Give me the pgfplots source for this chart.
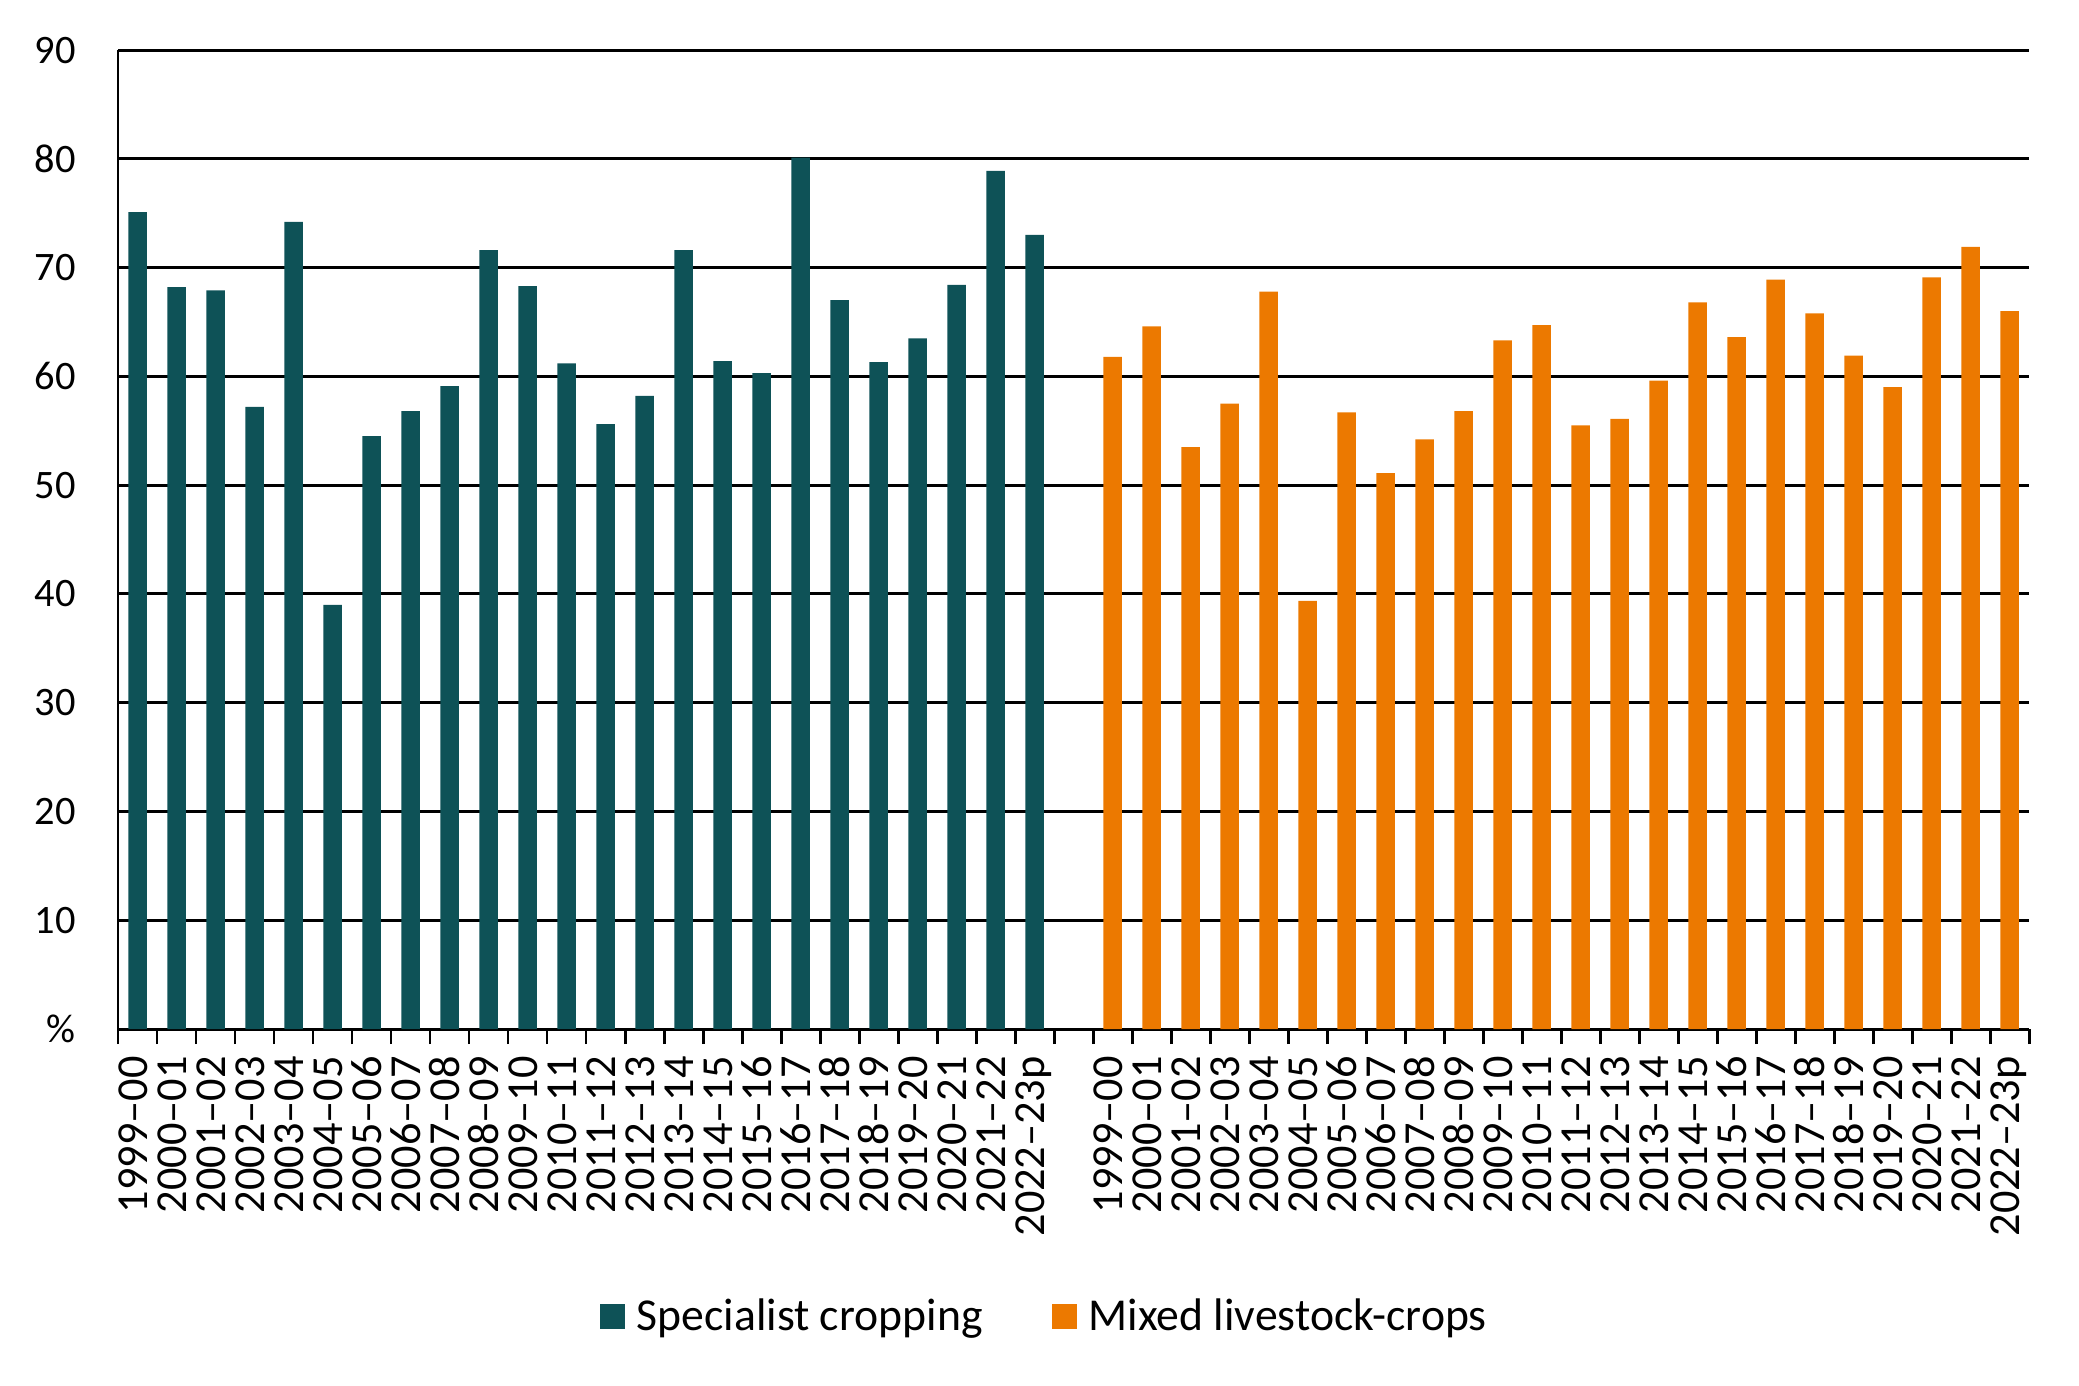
\documentclass[border=0pt]{standalone}
\usepackage{fontspec}
\setmainfont{Carlito}
\usepackage{pgfplots}
\pgfplotsset{compat=1.18}
\definecolor{tealc}{RGB}{14,82,87}
\definecolor{orngc}{RGB}{236,121,0}
\begin{document}
\begin{tikzpicture}
\path[use as bounding box] (-1.18cm,-3.56cm) rectangle (19.61cm,10.29cm);
\begin{axis}[
  at={(0,0)}, anchor=south west,
  scale only axis, width=19.11cm, height=9.79cm,
  xmin=-0.5, xmax=48.5, ymin=0, ymax=90,
  axis x line*=bottom, axis y line*=left,
  axis line style={line width=0.85pt, -, black},
  ytick={0,10,...,90},
  yticklabels={\%,10,20,30,40,50,60,70,80,90},
  ytick style={draw=none},
  yticklabel style={font=\fontsize{11.5}{13}\selectfont},
  yticklabel shift=0.3cm,
  ymajorgrids,
  major grid style={black, line width=0.85pt},
  xtick={0,...,48},
  xticklabels={1999–00,2000–01,2001–02,2002–03,2003–04,2004–05,2005–06,2006–07,2007–08,2008–09,2009–10,2010–11,2011–12,2012–13,2013–14,2014–15,2015–16,2016–17,2017–18,2018–19,2019–20,2020–21,2021–22,2022–23p,{},1999–00,2000–01,2001–02,2002–03,2003–04,2004–05,2005–06,2006–07,2007–08,2008–09,2009–10,2010–11,2011–12,2012–13,2013–14,2014–15,2015–16,2016–17,2017–18,2018–19,2019–20,2020–21,2021–22,2022–23p},
  major x tick style={draw=none},
  minor xtick={-0.5,0.5,...,48.5},
  minor x tick style={black, line width=0.85pt},
  minor tick length=0.15cm,
  major tick length=0pt,
  tick align=outside,
  xticklabel style={rotate=90, anchor=east, font=\fontsize{12.6}{14}\selectfont, text height=1.3ex, text depth=0.1ex},
  xticklabel shift=0.15cm,
  /pgf/number format/assume math mode=true,
  ybar, bar width=0.185cm, bar shift=0pt,
  legend columns=2,
  legend style={at={(0.486,-0.294)}, anchor=center, draw=none, font=\fontsize{13}{15}\selectfont,
    /tikz/every even column/.append style={column sep=0.62cm}},
  legend image code/.code={\fill[#1] (0cm,-0.125cm) rectangle (0.25cm,0.125cm);},
]
\addplot[fill=tealc, draw=none] coordinates {
(0,75.1) (1,68.2) (2,67.9) (3,57.2) (4,74.2) (5,39.0) (6,54.5) (7,56.8)
(8,59.1) (9,71.6) (10,68.3) (11,61.2) (12,55.6) (13,58.2) (14,71.6) (15,61.4)
(16,60.3) (17,80.1) (18,67.0) (19,61.3) (20,63.5) (21,68.4) (22,78.9) (23,73.0)};
\addlegendentry{\hspace{0.05cm}Specialist cropping}
\addplot[fill=orngc, draw=none] coordinates {
(25,61.8) (26,64.6) (27,53.5) (28,57.5) (29,67.8) (30,39.35) (31,56.7) (32,51.1)
(33,54.2) (34,56.8) (35,63.3) (36,64.7) (37,55.5) (38,56.1) (39,59.6) (40,66.8)
(41,63.6) (42,68.9) (43,65.8) (44,61.9) (45,59.0) (46,69.1) (47,71.9) (48,66.0)};
\addlegendentry{\hspace{0.05cm}Mixed livestock-crops}
\end{axis}
\end{tikzpicture}
\end{document}
